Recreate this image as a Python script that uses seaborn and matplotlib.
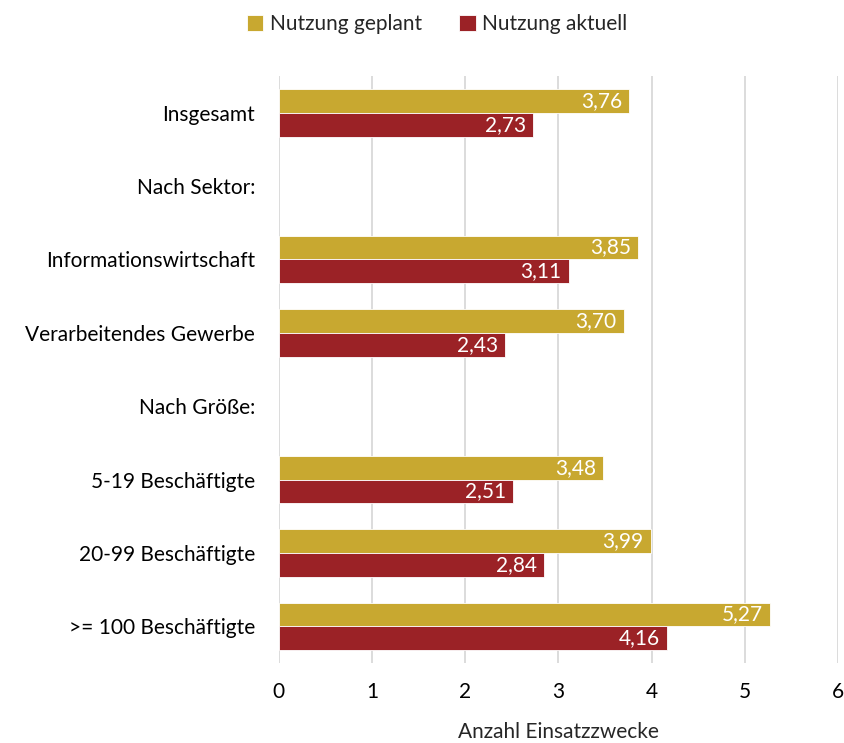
import pandas as pd
import matplotlib.pyplot as plt
import seaborn as sns

categories = ["Insgesamt", "Nach Sektor:", "Informationswirtschaft", "Verarbeitendes Gewerbe",
              "Nach Größe:", "5-19 Beschäftigte", "20-99 Beschäftigte", ">= 100 Beschäftigte"]
data_cats = ["Insgesamt", "Informationswirtschaft", "Verarbeitendes Gewerbe",
             "5-19 Beschäftigte", "20-99 Beschäftigte", ">= 100 Beschäftigte"]
geplant = [3.76, 3.85, 3.70, 3.48, 3.99, 5.27]
aktuell = [2.73, 3.11, 2.43, 2.51, 2.84, 4.16]
series = ["Nutzung geplant", "Nutzung aktuell"]
colors = ["#C8A830", "#9B2226"]

df = pd.DataFrame({
    "Kategorie": data_cats * 2,
    "Wert": geplant + aktuell,
    "Serie": [series[0]] * len(data_cats) + [series[1]] * len(data_cats),
})

sns.set_style("white")
plt.rcParams['font.family'] = ['Lato', 'DejaVu Sans']
fs = 15

fig = plt.figure(figsize=(8.45, 7.43), dpi=100)
ax = fig.add_axes([0.330, 0.1076, 0.6617, 0.7901])

sns.barplot(data=df, y="Kategorie", x="Wert", hue="Serie", order=categories,
            hue_order=series, palette=colors, saturation=1, orient="h", width=0.65,
            edgecolor="white", linewidth=0.6, ax=ax)

## value labels inside bar ends
for cont in ax.containers:
    for p in cont:
        w = p.get_width()
        if w != w or w == 0:
            continue
        ax.annotate(f"{w:.2f}".replace(".", ","), (w, p.get_y() + p.get_height() / 2),
                    xytext=(-5, 0), textcoords="offset points", ha="right", va="center",
                    color="white", fontsize=fs)

ax.set_xlim(0, 6)
ax.set_ylim(len(categories) - 0.5, -0.5)
ax.set_xticks(range(0, 7))
ax.grid(axis="x", color="#D9D9D9", linewidth=1.3)
ax.set_axisbelow(True)
for s in ax.spines.values():
    s.set_visible(False)
ax.tick_params(axis="both", length=0, labelsize=fs, colors="black")
ax.tick_params(axis="x", pad=14)
ax.tick_params(axis="y", pad=17)
ax.set_ylabel("")
ax.set_xlabel("Anzahl Einsatzzwecke", fontsize=fs, labelpad=14)

ax.legend(loc="lower center", bbox_to_anchor=(0.283, 1.04), ncol=2, frameon=False,
          fontsize=fs, handlelength=0.8, handleheight=0.8, handletextpad=0.3,
          columnspacing=1.8)

fig.savefig("out.png", dpi=100)
